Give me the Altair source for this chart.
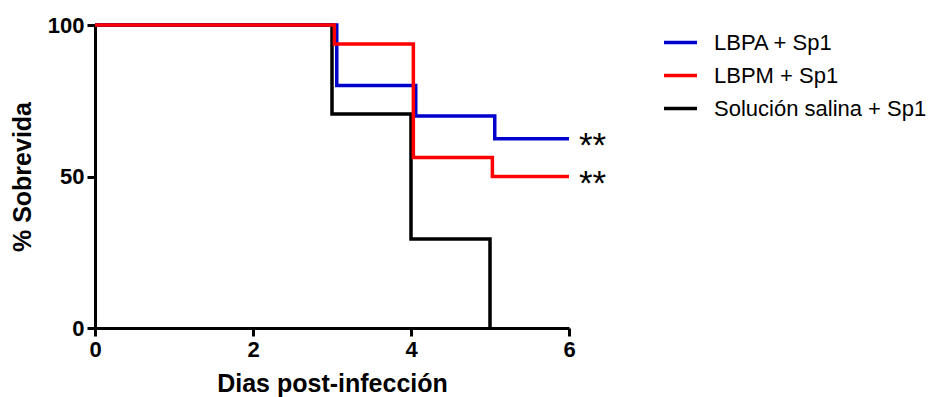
import altair as alt
import pandas as pd

groups = ["LBPA + Sp1", "LBPM + Sp1", "Solución salina + Sp1"]
colors = ["#0000cc", "#ff0000", "#000000"]

blue_days = [0, 3.06, 4.06, 5.06, 6]
blue_surv = [100, 80, 70, 62.5, 62.5]
red_days = [0, 3.03, 4.03, 5.03, 6]
red_surv = [100, 93.75, 56.25, 50, 50]
black_days = [0, 3.0, 4.0, 5.0]
black_surv = [100, 70.6, 29.4, 0]

sig_labels = ["**", "**"]
sig_days = [6, 6]
sig_surv = [62.5, 50]

x_ticks = [0, 2, 4, 6]
y_ticks = [0, 50, 100]

rows = []
# drawing order: black, blue, red (red on top)
for g, days, surv in [(groups[2], black_days, black_surv),
                      (groups[0], blue_days, blue_surv),
                      (groups[1], red_days, red_surv)]:
    for i, (d, s) in enumerate(zip(days, surv)):
        rows.append({"group": g, "day": d, "surv": s, "idx": i})
df = pd.DataFrame(rows)
sig = pd.DataFrame({"day": sig_days, "surv": sig_surv, "label": sig_labels})

FONT = "Liberation Sans"

x_enc = alt.X("day:Q", scale=alt.Scale(domain=[0, 6], nice=False, zero=False),
              axis=alt.Axis(values=x_ticks, format="d", title="Dias post-infección",
                            labelFlush=False, titleFontSize=25, titlePadding=11,
                            labelPadding=3))
y_enc = alt.Y("surv:Q", scale=alt.Scale(domain=[0, 100], nice=False),
              axis=alt.Axis(values=y_ticks, format="d", title="% Sobrevida",
                            titleFontSize=25, titlePadding=12, labelPadding=3))

lines = alt.Chart(df).mark_line(interpolate="step-after", strokeWidth=3.5).encode(
    x=x_enc,
    y=y_enc,
    color=alt.Color("group:N", scale=alt.Scale(domain=groups, range=colors),
                    legend=alt.Legend(orient="none", legendX=567, legendY=1, title=None,
                                      symbolType="stroke", symbolSize=1089,
                                      symbolStrokeWidth=3.3, labelFontSize=22,
                                      labelFont=FONT, labelColor="black",
                                      labelOffset=15, labelLimit=400, padding=0,
                                      rowPadding=0, clipHeight=33)),
    order="idx:Q",
)

stars = alt.Chart(sig).mark_text(align="left", baseline="middle", dx=10, dy=7,
                                 fontSize=35, font=FONT, color="black").encode(
    x="day:Q", y="surv:Q", text="label:N")

chart = alt.layer(lines, stars).properties(
    width=474, height=303,
    autosize=alt.AutoSizeParams(type="none"),
    padding={"left": 87, "top": 17, "right": 361, "bottom": 69},
).configure_view(stroke=None).configure_axis(
    grid=False, labelFont=FONT, labelFontWeight="bold", labelFontSize=22,
    labelColor="black", titleFont=FONT, titleFontWeight="bold", titleColor="black",
    domainColor="black", domainWidth=3, tickColor="black", tickWidth=3, tickSize=8,
)

chart.save("out.html", embed_options={"renderer": "svg", "actions": False})
